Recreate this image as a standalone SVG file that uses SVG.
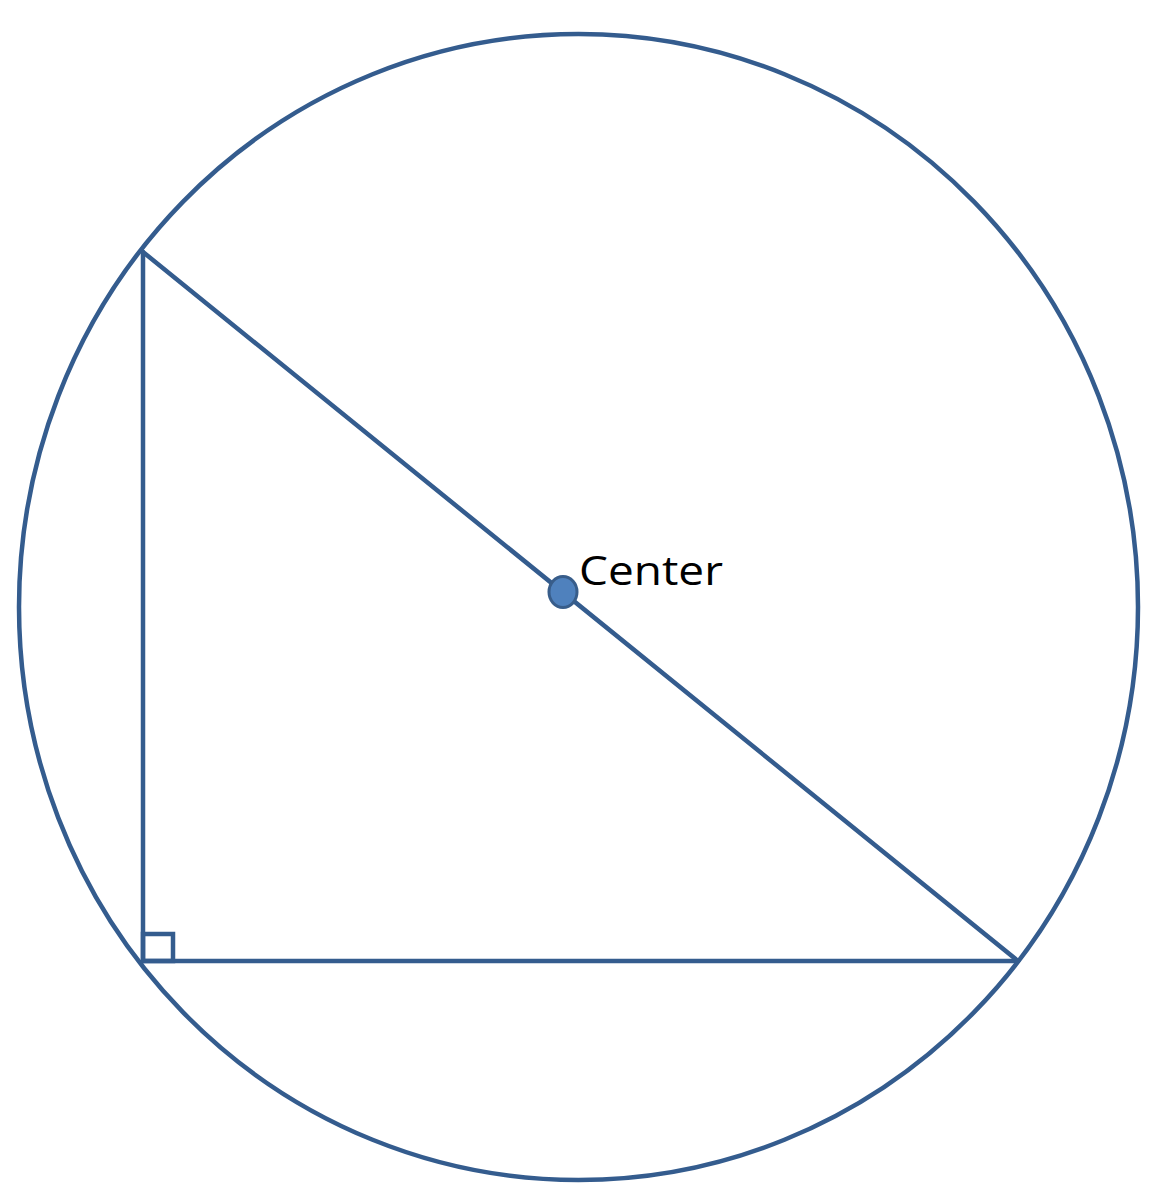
<svg xmlns="http://www.w3.org/2000/svg" width="1156" height="1200" viewBox="0 0 1156 1200">
<style>
.ln{fill:none;stroke:#345C8E;stroke-width:4.5;stroke-linecap:round;stroke-linejoin:round}
.lbl{font-family:"Open Sans","Noto Sans",sans-serif;font-size:40px;fill:#000}
</style>
<rect width="1156" height="1200" fill="#fff"/>
<g id="circle"><ellipse class="ln" cx="578.5" cy="607" rx="559.5" ry="573"/></g>
<g id="connectors">
<line class="ln" x1="143" y1="252" x2="143" y2="961"/>
<line class="ln" x1="143" y1="961" x2="1018" y2="961"/>
<line class="ln" x1="143" y1="252" x2="1018" y2="961"/>
<rect class="ln" x="143" y="934" width="30" height="27" style="stroke-linecap:butt;stroke-linejoin:miter"/>
</g>
<g id="center">
<ellipse cx="563" cy="592" rx="14" ry="15.5" fill="#4F81BD" stroke="#385D8A" stroke-width="3"/>
<text class="lbl" x="579" y="585" textLength="144" lengthAdjust="spacingAndGlyphs">Center</text>
</g>
</svg>
